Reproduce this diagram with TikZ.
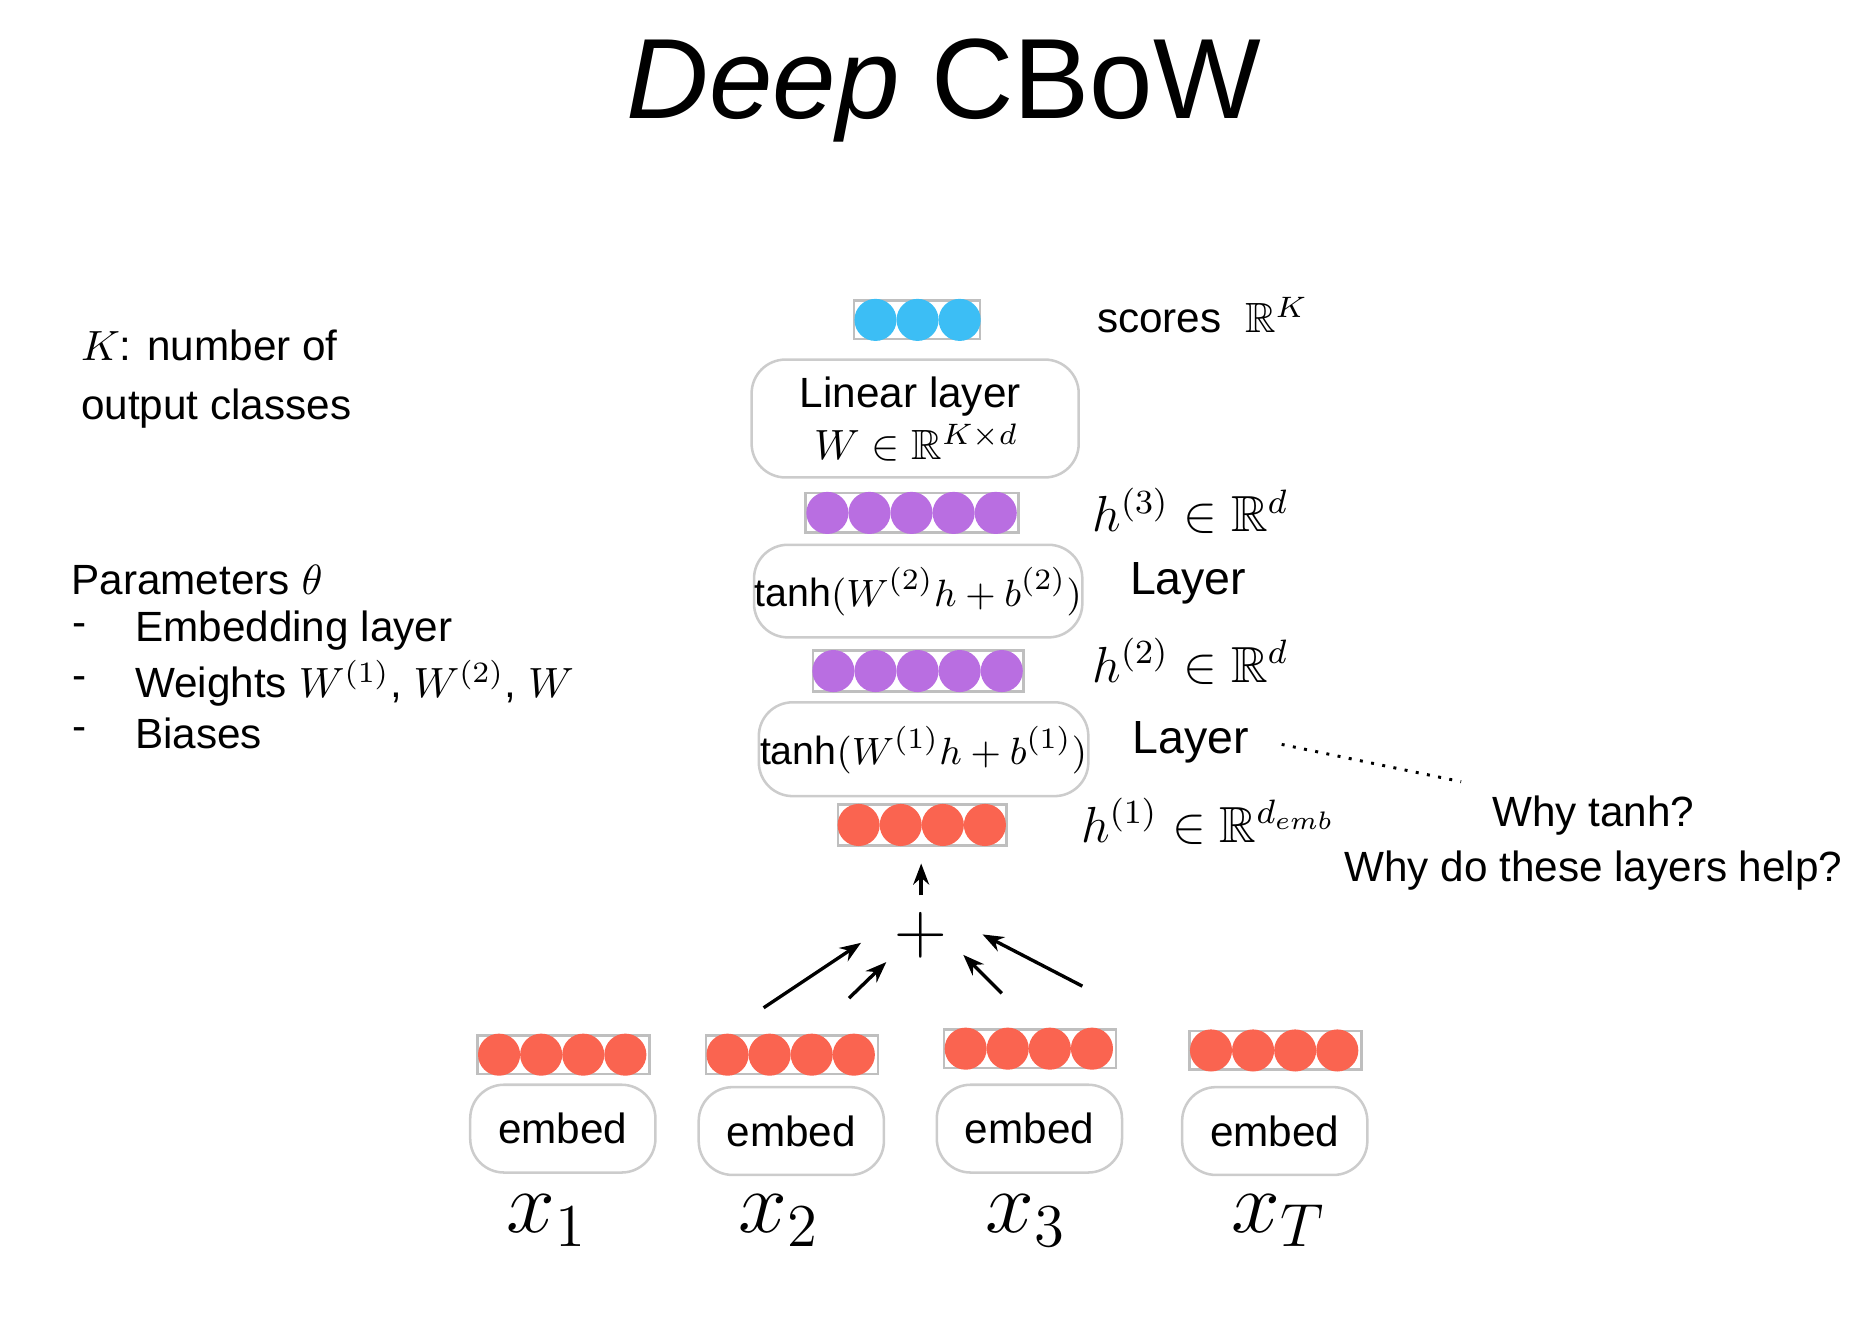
\documentclass[tikz,border=0pt]{standalone}
\usepackage{amsmath,amssymb}
\usepackage{fontspec}
\setmainfont{Liberation Sans}
\usetikzlibrary{arrows.meta,positioning,calc}

\definecolor{scoreblue}{RGB}{60,190,245}
\definecolor{hidpurple}{RGB}{185,110,225}
\definecolor{embred}{RGB}{250,100,80}

\tikzset{
  layerbox/.style={draw=gray!40, rounded corners=8pt, line width=0.6pt},
  vecbox/.style={draw=gray!50, line width=0.6pt},
  lbl/.style={font=\fontsize{10}{12}\selectfont},
  mlbl/.style={font=\fontsize{12}{14}\selectfont},
  tlbl/.style={font=\fontsize{9.3}{11}\selectfont},
  arr/.style={-{Stealth[length=5pt]}, line width=0.8pt}
}

% circles of a vector: first centre x, y, count, colour
\newcommand{\vecdots}[4]{%
  \foreach \k in {1,...,#3} {
    \fill[#4] ({#1+(\k-1)*0.35},#2) circle (0.175);
  }
}

\begin{document}
\begin{tikzpicture}
  \useasboundingbox (0,0) rectangle (15.6,-11.11);

  % Title
  \node[font=\fontsize{27}{30}\selectfont] (title) at (7.85,-0.75) {\textit{Deep} CBoW};

  % Output scores
  \draw[vecbox] (7.10,-2.50) rectangle (8.15,-2.82);
  \vecdots{7.28}{-2.66}{3}{scoreblue}
  \node[lbl] (scores) at (10.0,-2.62) {scores \ $\mathbb{R}^K$};

  % Linear layer
  \draw[layerbox] (6.25,-2.99) rectangle (8.97,-3.97);
  \node[lbl] (lin) at (7.57,-3.30) {Linear layer};
  \node[lbl] (linw) at (7.62,-3.68) {$W \in \mathbb{R}^{K\times d}$};

  % h3
  \draw[vecbox] (6.70,-4.10) rectangle (8.47,-4.43);
  \vecdots{6.88}{-4.265}{5}{hidpurple}
  \node[mlbl] (h3) at (9.90,-4.25) {$h^{(3)} \in \mathbb{R}^d$};

  % Layer 2
  \draw[layerbox] (6.27,-4.53) rectangle (9.00,-5.30);
  \node[tlbl] (tanh2) at (7.635,-4.92) {$\mathrm{tanh}(W^{(2)}h + b^{(2)})$};
  \node[font=\fontsize{11}{13}\selectfont] (layer2) at (9.88,-4.85) {Layer};

  % h2
  \draw[vecbox] (6.76,-5.41) rectangle (8.51,-5.75);
  \vecdots{6.93}{-5.58}{5}{hidpurple}
  \node[mlbl] (h2) at (9.90,-5.50) {$h^{(2)} \in \mathbb{R}^d$};

  % Layer 1
  \draw[layerbox] (6.31,-5.84) rectangle (9.05,-6.62);
  \node[tlbl] (tanh1) at (7.68,-6.24) {$\mathrm{tanh}(W^{(1)}h + b^{(1)})$};
  \node[font=\fontsize{11}{13}\selectfont] (layer1) at (9.90,-6.17) {Layer};

  % h1
  \draw[vecbox] (6.97,-6.69) rectangle (8.37,-7.03);
  \vecdots{7.14}{-6.86}{4}{embred}
  \node[mlbl] (h1) at (10.05,-6.83) {$h^{(1)} \in \mathbb{R}^{d_{emb}}$};

  % Question
  \coordinate (qend) at (12.15,-6.50);
  \draw[dotted, line width=0.7pt] (layer1.east) ++(0.15,-0.02) -- (qend);
  \node[lbl] (why1) at (13.25,-6.78) {Why tanh?};
  \node[lbl] (why2) at (13.25,-7.24) {Why do these layers help?};

  % Sum
  \node[font=\fontsize{16}{18}\selectfont] (plus) at (7.66,-7.78) {$+$};
  \coordinate (sumtop) at (7.66,-7.18);
  \draw[arr] (plus.north) ++(0,0.02) -- (sumtop);
  \coordinate (a1) at (6.35,-8.38);
  \coordinate (a2) at (7.06,-8.30);
  \coordinate (a3) at (8.33,-8.26);
  \coordinate (a4) at (9.00,-8.20);
  \draw[arr] (a1) -- (7.16,-7.84);
  \draw[arr] (a2) -- (7.37,-8.00);
  \draw[arr] (a3) -- (8.01,-7.94);
  \draw[arr] (a4) -- (8.17,-7.77);

  % Embeddings
  \foreach \bx/\vy/\ey/\lx/\nm in {3.97/-8.77/-9.385/4.55/1, 5.87/-8.77/-9.405/6.48/2, 7.85/-8.72/-9.385/8.53/3, 9.89/-8.735/-9.405/10.63/T} {
    \draw[vecbox] (\bx,\vy+0.16) rectangle ++(1.43,-0.32);
    \vecdots{\bx+0.18}{\vy}{4}{embred}
    \draw[layerbox] (\bx-0.06,\ey+0.365) rectangle ++(1.54,-0.73);
    \node[lbl] (emb\nm) at (\bx+0.71,\ey) {embed};
    \node[font=\fontsize{22}{24}\selectfont] (x\nm) at (\lx,-10.15) {$x_{\nm}$};
  }

  % Left notes
  \node[lbl, anchor=west, align=left] (knote) at (0.55,-3.15)
    {$K$: number of\\[2pt]output classes};
  \node[lbl, anchor=west] (params) at (0.47,-4.82) {Parameters $\theta$};
  \foreach \t/\y/\nm in {Embedding layer/-5.24/pe, Weights $W^{(1)}$\text{, }$W^{(2)}$\text{, }$W$/-5.68/pw, Biases/-6.10/pb} {
    \node[lbl, anchor=west] (\nm d) at (0.48,\y) {-};
    \node[lbl, anchor=west] (\nm) at (1.00,\y) {\t};
  }
\end{tikzpicture}
\end{document}
